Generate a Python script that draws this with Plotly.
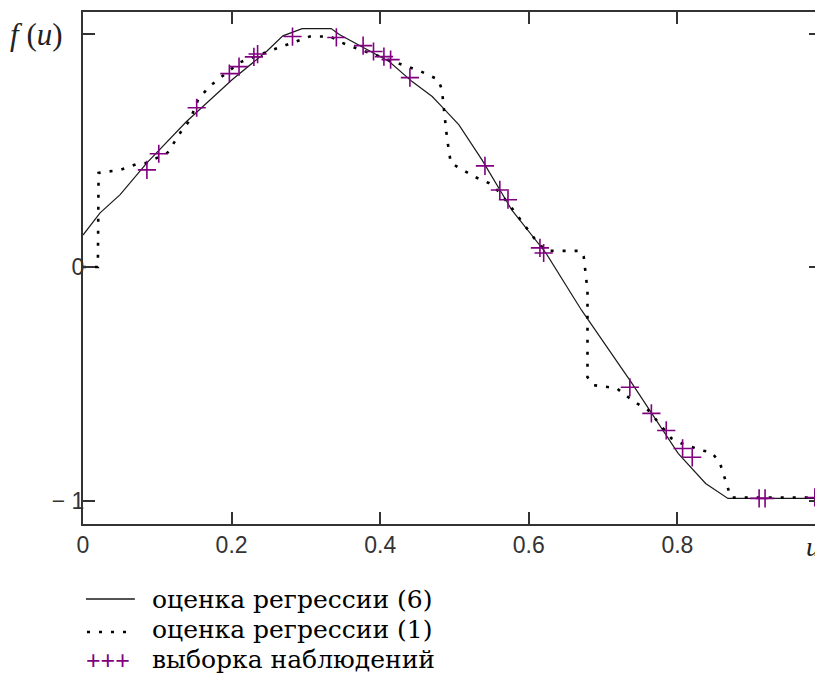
import plotly.graph_objects as go

# regression estimate (6) - solid curve
u_reg6 = [0.000, 0.023, 0.050, 0.086, 0.139, 0.201, 0.247, 0.269, 0.295, 0.334,
          0.345, 0.376, 0.412, 0.443, 0.470, 0.483, 0.506, 0.537, 0.577, 0.623,
          0.671, 0.738, 0.801, 0.838, 0.868, 1.000]
f_reg6 = [0.137, 0.232, 0.310, 0.446, 0.622, 0.803, 0.923, 0.990, 1.021, 1.021,
          0.996, 0.944, 0.880, 0.794, 0.730, 0.687, 0.609, 0.459, 0.245, 0.060,
          -0.185, -0.494, -0.798, -0.927, -0.991, -0.991]

# regression estimate (1) - dotted step-like curve
u_reg1 = [0.000, 0.020, 0.021, 0.050, 0.072, 0.086, 0.114, 0.132, 0.144, 0.155,
          0.170, 0.182, 0.211, 0.238, 0.267, 0.305, 0.333, 0.349, 0.362, 0.399,
          0.430, 0.455, 0.478, 0.483, 0.490, 0.495, 0.506, 0.530, 0.546, 0.560,
          0.577, 0.596, 0.609, 0.623, 0.670, 0.674, 0.679, 0.679, 0.687, 0.718,
          0.743, 0.761, 0.775, 0.792, 0.805, 0.832, 0.846, 0.857, 0.866, 0.872,
          1.000]
f_reg1 = [0.000, 0.000, 0.403, 0.416, 0.440, 0.446, 0.490, 0.580, 0.630, 0.717,
          0.773, 0.803, 0.876, 0.910, 0.944, 0.987, 0.987, 0.960, 0.944, 0.901,
          0.867, 0.837, 0.803, 0.760, 0.550, 0.446, 0.425, 0.382, 0.360, 0.322,
          0.253, 0.172, 0.116, 0.069, 0.069, 0.043, -0.100, -0.472, -0.506, -0.519,
          -0.579, -0.614, -0.670, -0.734, -0.755, -0.785, -0.794, -0.837, -0.927, -0.987,
          -0.987]

# observed sample
u_obs = [0.086, 0.102, 0.153, 0.197, 0.210, 0.230, 0.235, 0.282, 0.341, 0.377,
         0.391, 0.405, 0.414, 0.440, 0.541, 0.561, 0.572, 0.615, 0.620, 0.736,
         0.765, 0.785, 0.807, 0.820, 0.910, 0.918, 0.985]
f_obs = [0.416, 0.485, 0.682, 0.828, 0.858, 0.900, 0.912, 0.987, 0.983, 0.948,
         0.923, 0.901, 0.888, 0.811, 0.433, 0.330, 0.288, 0.082, 0.060, -0.515,
         -0.627, -0.700, -0.777, -0.815, -0.991, -0.991, -0.987]

x_ticks = [0, 0.2, 0.4, 0.6, 0.8]
x_ticktext = ["0", "0.2", "0.4", "0.6", "0.8"]
y_ticks = [-1, 0, 1]
y_ticktext = ["\u2212 1", "0", ""]

legend_names = ["оценка регрессии (6)", "оценка регрессии (1)", "выборка наблюдений"]

# page has an 8px body margin, so the figure is shrunk by that much
OFF = 8
W, H = 823 - OFF, 675 - OFF
L, R, T, B = 83 - OFF, 0, 12 - OFF, 675 - 524
PW, PH = W - L - R, H - T - B


def px(xp):
    return (xp - OFF - L) / PW


def py(yp):
    return (H - B - (yp - OFF)) / PH


axis_col = "#333333"
purple = "#800080"

fig = go.Figure()
fig.add_trace(go.Scatter(x=u_reg6, y=f_reg6, mode="lines",
                         line=dict(color="#1a1a1a", width=1.2),
                         showlegend=False))
fig.add_trace(go.Scatter(x=u_reg1, y=f_reg1, mode="lines",
                         line=dict(color="black", width=2.6, dash="3px,9px"),
                         showlegend=False))
fig.add_trace(go.Scatter(x=u_obs, y=f_obs, mode="markers",
                         marker=dict(symbol="cross-thin", size=13,
                                     line=dict(color=purple, width=1.6)),
                         showlegend=False))

tickfont = dict(family="Liberation Sans, Arial, sans-serif", size=23, color=axis_col)
fig.update_xaxes(range=[0, PW / 745.0], tickvals=x_ticks, ticktext=x_ticktext,
                 showgrid=False, zeroline=False, showline=True, linecolor=axis_col,
                 linewidth=2, mirror="ticks", ticks="inside", ticklen=12,
                 tickwidth=1.5, tickcolor=axis_col, tickfont=tickfont,
                 ticklabelstandoff=-1)
fig.update_yaxes(range=[(267 - 524) / 233.5, (267 - 12) / 233.5],
                 tickvals=y_ticks, ticktext=y_ticktext,
                 showgrid=False, zeroline=False, showline=True, linecolor=axis_col,
                 linewidth=2, mirror="ticks", ticks="inside", ticklen=12,
                 tickwidth=1.5, tickcolor=axis_col, tickfont=tickfont,
                 ticklabelstandoff=-8)

serif = "DejaVu Serif, Liberation Serif, serif"
annotations = [
    dict(text="<i>f</i> (<i>u</i>)", x=px(8), y=py(34), xanchor="left", yanchor="middle",
         font=dict(family="Liberation Serif, serif", size=31, color="#222")),
    dict(text="<i>u</i>", x=px(806), y=py(546), xanchor="left", yanchor="middle",
         font=dict(family="Liberation Serif, serif", size=28, color="#222")),
]
legend_y = [599, 629, 659]
for name, yy in zip(legend_names, legend_y):
    annotations.append(dict(text=name, x=px(150), y=py(yy), xanchor="left",
                            yanchor="middle",
                            font=dict(family=serif, size=25, color="black")))
annotations.append(dict(text="+++", x=px(84), y=py(660), xanchor="left", yanchor="middle",
                        font=dict(family="Liberation Sans, sans-serif", size=25,
                                  color=purple)))
for a in annotations:
    a.update(xref="paper", yref="paper", showarrow=False)

shapes = [
    dict(type="line", xref="paper", yref="paper", x0=px(86), x1=px(135),
         y0=py(599), y1=py(599), line=dict(color="#1a1a1a", width=1.6)),
    dict(type="line", xref="paper", yref="paper", x0=px(87), x1=px(134),
         y0=py(632), y1=py(632), line=dict(color="black", width=2.6, dash="3px,9px")),
]

fig.update_layout(width=W, height=H, autosize=False,
                  margin=dict(l=L, r=R, t=T, b=B, pad=0),
                  plot_bgcolor="white", paper_bgcolor="white",
                  annotations=annotations, shapes=shapes, showlegend=False)

fig.write_html("out.html")
